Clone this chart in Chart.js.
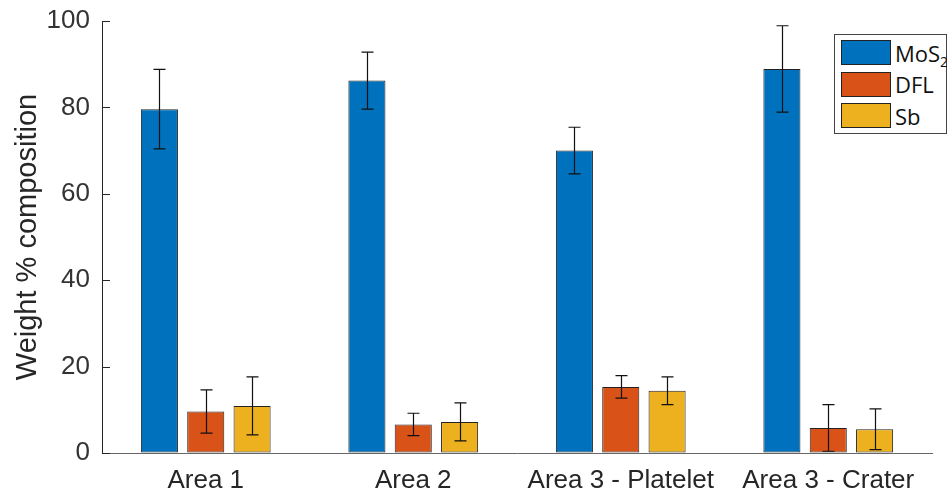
<!DOCTYPE html>
<html>
<head>
<meta charset="utf-8">
<script src="https://cdn.jsdelivr.net/npm/chart.js@4.4.0/dist/chart.umd.min.js"></script>
<style>
  html,body{margin:0;padding:0;background:#fff;}
  #wrap{position:relative;width:947px;height:495px;overflow:hidden;}
  #legend{position:absolute;left:834px;top:34px;width:113px;height:100px;border:1px solid #444;background:#fff;box-sizing:border-box;font-family:"Open Sans","Noto Sans",sans-serif;font-size:22px;color:#111;}
  .item{position:absolute;left:6px;height:25px;display:flex;align-items:center;}
  .sw{width:48px;height:23px;border:1px solid #222;margin-right:4px;}
  sub{font-size:14px;vertical-align:-5px;line-height:0;}
</style>
</head>
<body>
<div id="wrap">
  <canvas id="c" width="947" height="495"></canvas>
  <div id="legend"></div>
</div>
<script>
const categories = ["Area 1", "Area 2", "Area 3 - Platelet", "Area 3 - Crater"];
const seriesNames = ["MoS2", "DFL", "Sb"];
const seriesLegendHtml = ["MoS<sub>2</sub>", "DFL", "Sb"];
const seriesColors = ["#0072BD", "#D95319", "#EDB120"];
const mos2 = [79.6, 86.2, 70.0, 88.9];
const mos2Err = [9.2, 6.6, 5.4, 10.0];
const dfl = [9.6, 6.6, 15.3, 5.8];
const dflErr = [5.0, 2.6, 2.6, 5.4];
const sb = [10.9, 7.2, 14.4, 5.5];
const sbErr = [6.7, 4.4, 3.2, 4.7];
const yTicks = [0, 20, 40, 60, 80, 100];

const values = [mos2, dfl, sb];
const errors = [mos2Err, dflErr, sbErr];

const errorBars = {
  id: 'errorBars',
  afterDatasetsDraw(chart) {
    const ctx = chart.ctx;
    const ys = chart.scales.y;
    ctx.save();
    ctx.strokeStyle = '#111';
    ctx.lineWidth = 1.2;
    chart.data.datasets.forEach((ds, di) => {
      const meta = chart.getDatasetMeta(di);
      meta.data.forEach((el, i) => {
        const v = ds.data[i], e = ds.err[i];
        const x = Math.round(el.x) + 0.5;
        const yt = ys.getPixelForValue(v + e);
        const yb = ys.getPixelForValue(v - e);
        ctx.beginPath();
        ctx.moveTo(x, yt); ctx.lineTo(x, yb);
        ctx.moveTo(x - 6, yt); ctx.lineTo(x + 6, yt);
        ctx.moveTo(x - 6, yb); ctx.lineTo(x + 6, yb);
        ctx.stroke();
      });
    });
    ctx.restore();
  }
};

const innerTicks = {
  id: 'innerTicks',
  afterDraw(chart) {
    const ctx = chart.ctx;
    const ys = chart.scales.y;
    const left = chart.chartArea.left;
    ctx.save();
    ctx.strokeStyle = '#262626';
    ctx.lineWidth = 1;
    yTicks.forEach(t => {
      const y = Math.round(ys.getPixelForValue(t)) + 0.5;
      ctx.beginPath();
      ctx.moveTo(left, y); ctx.lineTo(left + 8, y);
      ctx.stroke();
    });
    ctx.restore();
  }
};

const chart = new Chart(document.getElementById('c'), {
  type: 'bar',
  data: {
    labels: categories,
    datasets: seriesNames.map((n, i) => ({
      label: n,
      data: values[i],
      err: errors[i],
      backgroundColor: seriesColors[i],
      borderColor: '#222',
      borderWidth: 1,
      borderSkipped: false,
      categoryPercentage: 0.67,
      barPercentage: 0.8
    }))
  },
  options: {
    responsive: false,
    animation: false,
    layout: { padding: { left: 0, right: 15, top: 21, bottom: 0 } },
    plugins: { legend: { display: false }, tooltip: { enabled: false } },
    scales: {
      x: {
        grid: { display: true, drawOnChartArea: false, drawTicks: false },
        border: { display: true, color: '#666', width: 1 },
        ticks: { color: '#262626', font: { family: 'Liberation Sans, Arial, sans-serif', size: 26 }, padding: 12 },
        afterFit(s) { s.height = 42; s.paddingLeft = 0; s.paddingRight = 0; }
      },
      y: {
        min: 0, max: 100,
        afterBuildTicks(s) { s.ticks = yTicks.map(v => ({ value: v })); },
        grid: { display: true, drawOnChartArea: false, drawTicks: false },
        border: { display: true, color: '#262626', width: 1 },
        ticks: { color: '#333', font: { family: 'Liberation Sans, Arial, sans-serif', size: 26 }, padding: 12 },
        title: { display: true, text: 'Weight % composition', color: '#262626', font: { family: 'Liberation Sans, Arial, sans-serif', size: 29 }, padding: { top: 11, bottom: 0 } },
        afterFit(s) { s.width = 102; s.paddingTop = 0; s.paddingBottom = 0; }
      }
    }
  },
  plugins: [errorBars, innerTicks]
});

const leg = document.getElementById('legend');
seriesNames.forEach((n, i) => {
  const d = document.createElement('div');
  d.className = 'item';
  d.style.top = (5 + i * 31.5) + 'px';
  d.innerHTML = '<div class="sw" style="background:' + seriesColors[i] + '"></div><span>' + seriesLegendHtml[i] + '</span>';
  leg.appendChild(d);
});
</script>
</body>
</html>
